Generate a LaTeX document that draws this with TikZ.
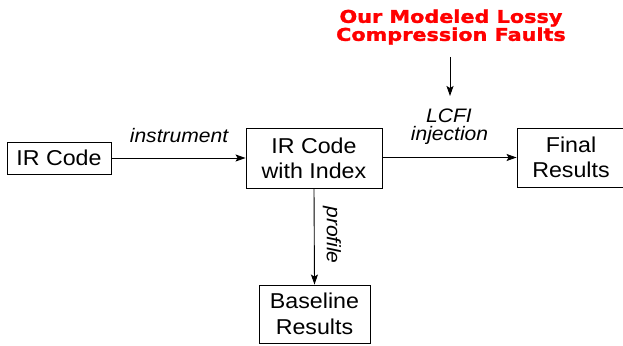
\documentclass[tikz,border=0pt]{standalone}
\usepackage{fontspec}
\setmainfont{Liberation Sans}[FakeStretch=1.08]
\newfontfamily\faultfont{DejaVu Sans}[FakeStretch=1.18, FakeBold=1.6]
\usetikzlibrary{arrows.meta}
\begin{document}
\begin{tikzpicture}[x=1pt,y=-1pt,
  line width=0.9pt,
  box/.style={draw, inner sep=0pt, align=center,
    font=\fontsize{21.5}{25.5}\selectfont},
  lbl/.style={inner sep=0pt, anchor=base,
    font=\fontsize{19.5}{19.5}\selectfont\itshape},
  flow/.style={-{Stealth[length=10pt,width=7pt,inset=2pt]}},
  faulttext/.style={inner sep=0pt, align=center, text=red,
    font=\fontsize{17.6}{18}\selectfont\faultfont\bfseries}]
\useasboundingbox (0,0) rectangle (623,345);

% processing stages
\node[box, minimum width=104pt, minimum height=32pt] (ir) at (59,158) {IR Code};
\node[box, minimum width=136pt, minimum height=60pt] (idx) at (314,158.5) {IR Code\\with Index};
\node[box, minimum width=108pt, minimum height=59pt] (fin) at (571,157.5) {Final\\Results};
\node[box, minimum width=111pt, minimum height=58pt] (base) at (314.5,314) {Baseline\\Results};

% fault model source
\node[faulttext] (faults) at (451,27) {Our Modeled Lossy\\Compression Faults};
\coordinate (fstart) at (450,57);
\coordinate (fend) at (450,96);

% connectors
\draw[flow] (ir.east) -- (ir.east -| idx.west);
\draw[flow] (idx.east |- fin.west) -- (fin.west);
\draw[flow] (idx.south) -- (base.north);
\draw[flow] (fstart) -- (fend);

% edge labels
\node[lbl] (linst) at (179,142.5) {instrument};
\node[lbl] (llcfi) at (449,122) {LCFI};
\node[lbl] (linj) at (449.5,140) {injection};
\node[inner sep=0pt, rotate=-90, font=\fontsize{19.5}{19.5}\selectfont\itshape] (lprof) at (332,235) {profile};
\end{tikzpicture}
\end{document}
